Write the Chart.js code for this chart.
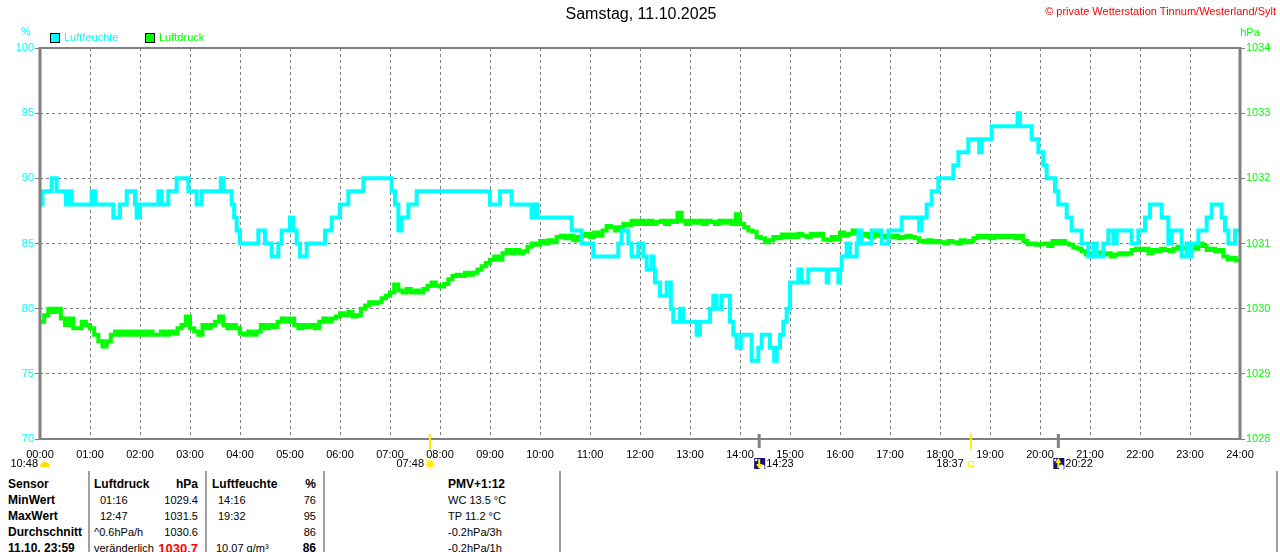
<!DOCTYPE html>
<html><head><meta charset="utf-8">
<script src="https://cdn.jsdelivr.net/npm/chart.js@4.4.1/dist/chart.umd.min.js"></script>
<style>
body{margin:0;background:#fff;width:1280px;height:552px;overflow:hidden;position:relative;font-family:"Liberation Sans",Arial,sans-serif}
.a{position:absolute;white-space:nowrap;line-height:1}
.sep{position:absolute;top:471px;height:81px;width:2px;background:#a0a0a0}
</style></head><body>
<canvas id="c" width="1280" height="470" style="position:absolute;left:0;top:0;width:1280px;height:470px"></canvas>
<div id="ov"></div>
<script>
// ---------- DATA ----------
const chartTitle = 'Samstag, 11.10.2025';
const copyright = '© private Wetterstation Tinnum/Westerland/Sylt';
const seriesLabels = ['Luftfeuchte', 'Luftdruck'];
const xTickLabels = ['00:00','01:00','02:00','03:00','04:00','05:00','06:00','07:00','08:00','09:00','10:00','11:00','12:00','13:00','14:00','15:00','16:00','17:00','18:00','19:00','20:00','21:00','22:00','23:00','24:00'];
const humTickLabels = [70, 75, 80, 85, 90, 95, 100];
const pressTickLabels = [1028, 1029, 1030, 1031, 1032, 1033, 1034];

// humidity (%): minute of day where a new value starts, and that value
const humTimes = [0,3,14,20,31,34,38,62,66,88,96,104,114,116,120,142,146,154,164,178,188,194,217,220,230,233,236,240,262,270,278,286,290,300,304,308,312,320,342,350,360,370,388,422,426,430,434,442,452,540,552,566,590,594,597,638,650,664,694,698,706,710,718,724,728,734,736,738,744,752,757,760,768,772,788,792,804,808,812,818,828,832,836,841,854,862,866,876,881,884,888,892,896,900,910,914,922,944,946,958,960,962,968,972,980,982,986,998,1010,1018,1034,1055,1058,1064,1070,1078,1096,1102,1114,1127,1130,1142,1173,1176,1190,1198,1204,1208,1218,1222,1232,1238,1250,1258,1264,1268,1276,1282,1288,1292,1310,1318,1326,1332,1346,1354,1358,1370,1376,1378,1382,1390,1400,1406,1418,1422,1426,1434,1440];
const humValues = [88,89,90,89,88,89,88,89,88,87,88,89,88,87,88,89,88,89,90,89,88,89,90,89,88,87,86,85,86,85,84,85,86,87,86,85,84,85,86,87,88,89,90,89,88,86,87,88,89,88,89,88,87,88,87,86,85,84,85,86,85,84,85,84,83,84,83,82,81,82,80,79,80,79,78,79,80,81,80,81,79,78,77,78,76,77,78,77,76,77,78,79,80,82,83,82,83,82,83,82,83,84,85,84,85,86,85,86,85,86,87,86,87,88,89,90,91,92,93,92,93,94,95,94,93,92,91,90,89,88,87,86,85,84,85,84,85,86,85,86,85,86,87,88,87,85,86,84,85,84,85,86,87,88,87,86,85,86,86];

// air pressure (hPa), one reading every 5 minutes from 00:00 to 24:00
const pressStepMinutes = 5;
const pressValues = [
 1029.80,1029.90,1030.00,1029.95,1030.00,1029.85,1029.75,1029.85,1029.70,1029.70,1029.80,1029.75,
 1029.70,1029.60,1029.50,1029.42,1029.50,1029.60,1029.65,1029.60,1029.65,1029.60,1029.65,1029.60,
 1029.65,1029.60,1029.65,1029.60,1029.60,1029.65,1029.60,1029.65,1029.62,1029.70,1029.75,1029.88,
 1029.70,1029.65,1029.60,1029.75,1029.70,1029.75,1029.80,1029.88,1029.75,1029.70,1029.75,1029.70,
 1029.62,1029.60,1029.65,1029.60,1029.65,1029.75,1029.70,1029.75,1029.72,1029.80,1029.85,1029.80,
 1029.85,1029.75,1029.70,1029.75,1029.72,1029.75,1029.70,1029.80,1029.85,1029.80,1029.85,1029.88,
 1029.93,1029.90,1029.95,1029.88,1029.90,1030.00,1030.05,1030.10,1030.08,1030.10,1030.16,1030.20,
 1030.25,1030.37,1030.28,1030.25,1030.30,1030.25,1030.28,1030.25,1030.30,1030.35,1030.40,1030.35,
 1030.34,1030.38,1030.45,1030.50,1030.52,1030.50,1030.55,1030.52,1030.55,1030.60,1030.65,1030.70,
 1030.75,1030.80,1030.75,1030.85,1030.90,1030.85,1030.90,1030.85,1030.88,1030.95,1031.00,1030.98,
 1031.04,1031.00,1031.05,1031.02,1031.10,1031.12,1031.08,1031.12,1031.05,1031.10,1031.12,1031.15,
 1031.10,1031.17,1031.12,1031.20,1031.27,1031.25,1031.20,1031.25,1031.30,1031.28,1031.35,1031.30,
 1031.35,1031.30,1031.35,1031.30,1031.33,1031.35,1031.30,1031.35,1031.33,1031.47,1031.35,1031.30,
 1031.35,1031.32,1031.35,1031.30,1031.35,1031.33,1031.30,1031.35,1031.32,1031.35,1031.30,1031.45,
 1031.30,1031.25,1031.20,1031.18,1031.10,1031.08,1031.02,1031.05,1031.10,1031.08,1031.14,1031.10,
 1031.14,1031.10,1031.15,1031.12,1031.10,1031.15,1031.12,1031.15,1031.06,1031.05,1031.10,1031.06,
 1031.17,1031.12,1031.15,1031.20,1031.15,1031.12,1031.15,1031.10,1031.15,1031.12,1031.10,1031.12,
 1031.10,1031.12,1031.08,1031.10,1031.12,1031.10,1031.08,1031.04,1031.02,1031.05,1031.02,1031.04,
 1031.02,1031.00,1031.04,1031.02,1031.00,1031.05,1031.02,1031.04,1031.08,1031.12,1031.10,1031.12,
 1031.08,1031.12,1031.10,1031.12,1031.10,1031.12,1031.08,1031.12,1031.04,1030.99,1031.00,1030.98,
 1030.99,1031.00,1030.96,1031.04,1031.00,1031.04,1031.00,1030.98,1030.94,1030.92,1030.88,1030.83,
 1030.85,1030.83,1030.86,1030.83,1030.85,1030.80,1030.83,1030.85,1030.83,1030.85,1030.90,1030.92,
 1030.90,1030.92,1030.85,1030.90,1030.88,1030.92,1030.90,1030.88,1030.92,1030.95,1030.92,1030.94,
 1030.96,1030.92,1031.00,1030.96,1030.90,1030.92,1030.88,1030.90,1030.80,1030.76,1030.78,1030.74,
 1030.72];

// astronomical events (minute of day)
const eventTimes = [468, 863, 1117, 1222];
const eventLabels = ['07:48', '14:23', '18:37', '20:22'];
const eventKinds = ['sunrise', 'moon', 'sunset', 'moonrise'];
const dayLength = '10:48';

// summary table
const tableRows = [
  ['Sensor', 'Luftdruck', 'hPa', 'Luftfeuchte', '%', 'PMV+1:12'],
  ['MinWert', '01:16', '1029.4', '14:16', '76', 'WC 13.5 °C'],
  ['MaxWert', '12:47', '1031.5', '19:32', '95', 'TP 11.2 °C'],
  ['Durchschnitt', '^0.6hPa/h', '1030.6', '', '86', '-0.2hPa/3h'],
  ['11.10. 23:59', 'veränderlich', '1030.7', '10.07 g/m³', '86', '-0.2hPa/1h']
];

// ---------- STYLE ----------
const CYAN = '#00ffff', GREEN = '#00ff00', GRAY = '#808080';
const FONT = '"Liberation Sans", Arial, sans-serif';

const ov = document.getElementById('ov');
function place(text, x, cy, size, color, align, bold) {
  const d = document.createElement('div');
  d.className = 'a';
  d.textContent = text;
  d.style.fontSize = size + 'px';
  d.style.color = color;
  if (bold) d.style.fontWeight = 'bold';
  d.style.top = (cy - 0.55 * size) + 'px';
  if (align === 'right') d.style.right = (1280 - x) + 'px';
  else if (align === 'center') { d.style.left = x + 'px'; d.style.transform = 'translateX(-50%)'; }
  else d.style.left = x + 'px';
  ov.appendChild(d);
  return d;
}

// header texts
place(chartTitle, 641, 15, 16, '#000', 'center');
place(copyright, 1276, 12, 11, '#ff0000', 'right');
place('%', 26, 32, 11, CYAN, 'center');
place('hPa', 1250, 33, 11, GREEN, 'center');

// legend
const legendX = [50, 145];
const legendColors = [CYAN, GREEN];
seriesLabels.forEach((lab, i) => {
  const b = document.createElement('div');
  b.style.cssText = `position:absolute;left:${legendX[i]}px;top:33px;width:8px;height:8px;border:1px solid #000;background:${legendColors[i]}`;
  ov.appendChild(b);
  place(lab, legendX[i] + 14, 38, 11, legendColors[i], 'left');
});

// table
const rowY = [485, 501, 517, 533, 549];
const seps = [88, 205, 323, 559, 1276];
seps.forEach(x => { const s = document.createElement('div'); s.className = 'sep'; s.style.left = x + 'px'; ov.appendChild(s); });
tableRows.forEach((r, i) => {
  const y = rowY[i];
  const hdr = i === 0;
  place(r[0], 8, y, 12, '#000', 'left', true);
  place(r[1], (i === 1 || i === 2) ? 100 : 94, y, hdr ? 12 : 11, '#000', 'left', hdr);
  if (i === 4) place(r[2], 198, y, 13, '#ff0000', 'right', true);
  else place(r[2], 198, y, hdr ? 12 : 11, '#000', 'right', hdr);
  if (r[3]) place(r[3], hdr ? 212 : (i === 4 ? 216 : 218), y, hdr ? 12 : 11, '#000', 'left', hdr);
  place(r[4], 316, y, (hdr || i === 4) ? 12 : 11, '#000', 'right', hdr || i === 4);
  place(r[5], 448, y, hdr ? 12 : 11, '#000', 'left', hdr);
});

// ---------- CHART ----------
const humData = humTimes.map((t, i) => ({ x: t, y: humValues[i] }));
const pressData = pressValues.map((v, i) => ({ x: i * pressStepMinutes, y: v }));

function drawSun(ctx, x, y) {
  ctx.fillStyle = '#ffee00'; ctx.strokeStyle = '#ffee00'; ctx.lineWidth = 1;
  ctx.beginPath(); ctx.arc(x, y, 3.5, 0, Math.PI * 2); ctx.fill();
  for (let k = 0; k < 8; k++) {
    const an = k * Math.PI / 4;
    ctx.beginPath(); ctx.moveTo(x + Math.cos(an) * 4.5, y + Math.sin(an) * 4.5);
    ctx.lineTo(x + Math.cos(an) * 6, y + Math.sin(an) * 6); ctx.stroke();
  }
}
function drawMoon(ctx, x, y, up) {
  ctx.fillStyle = '#14147a'; ctx.fillRect(x, y - 6, 11, 11);
  ctx.fillStyle = '#ffffff';
  ctx.beginPath(); ctx.arc(x + 8, y + 3, 2.5, 0, Math.PI * 2); ctx.fill();
  ctx.beginPath(); ctx.arc(x + 2, y - 4, 1.2, 0, Math.PI * 2); ctx.fill();
  ctx.strokeStyle = '#ffee00'; ctx.fillStyle = '#ffee00'; ctx.lineWidth = 2;
  ctx.beginPath(); ctx.moveTo(x + 5, y - 5); ctx.lineTo(x + 5, y + 4); ctx.stroke();
  ctx.beginPath();
  if (up) { ctx.moveTo(x + 2, y - 1); ctx.lineTo(x + 5, y - 6); ctx.lineTo(x + 8, y - 1); }
  else { ctx.moveTo(x + 2, y + 0); ctx.lineTo(x + 5, y + 5); ctx.lineTo(x + 8, y + 0); }
  ctx.fill();
}

const framePlugin = {
  id: 'frame',
  afterDraw(chart) {
    const { ctx, chartArea: a } = chart;
    const xs = chart.scales.x;
    ctx.save();
    ctx.strokeStyle = GRAY; ctx.lineWidth = 2;
    ctx.strokeRect(a.left, a.top, a.right - a.left, a.bottom - a.top);
    ctx.lineWidth = 3;
    ctx.beginPath(); ctx.moveTo(a.left, a.top - 1); ctx.lineTo(a.left, a.bottom + 1); ctx.stroke();
    ctx.beginPath(); ctx.moveTo(a.right, a.top - 1); ctx.lineTo(a.right, a.bottom + 1); ctx.stroke();

    const iy = 464;
    ctx.font = '11px ' + FONT; ctx.textBaseline = 'middle'; ctx.fillStyle = '#000';
    // day length with half sun at start of day
    const x0 = xs.getPixelForValue(0);
    ctx.textAlign = 'right'; ctx.fillText(dayLength, x0 - 2, iy);
    ctx.fillStyle = '#ffdd00';
    ctx.beginPath(); ctx.arc(x0 + 5, iy + 3, 5, Math.PI, 0); ctx.fill();

    eventTimes.forEach((t, i) => {
      const x = xs.getPixelForValue(t);
      const kind = eventKinds[i];
      const sunEv = kind === 'sunrise' || kind === 'sunset';
      ctx.strokeStyle = sunEv ? '#ffee00' : GRAY;
      ctx.lineWidth = sunEv ? 2 : 3;
      ctx.beginPath(); ctx.moveTo(x, a.bottom - 5); ctx.lineTo(x, a.bottom + (sunEv ? 10 : 9)); ctx.stroke();
      ctx.fillStyle = '#000';
      if (kind === 'sunrise') {
        ctx.textAlign = 'right'; ctx.fillText(eventLabels[i], x - 6, iy);
        drawSun(ctx, x, iy);
      } else if (kind === 'sunset') {
        ctx.textAlign = 'right'; ctx.fillText(eventLabels[i], x - 7, iy);
        ctx.strokeStyle = '#ffee00'; ctx.lineWidth = 1;
        ctx.strokeRect(x - 2.5, iy - 2.5, 5, 5);
      } else {
        drawMoon(ctx, x - 5, iy, kind === 'moonrise');
        ctx.fillStyle = '#000';
        ctx.textAlign = 'left'; ctx.fillText(eventLabels[i], x + 7, iy);
      }
    });
    ctx.restore();
  }
};

new Chart(document.getElementById('c'), {
  type: 'line',
  data: {
    datasets: [
      { label: seriesLabels[0], data: humData, yAxisID: 'yH', borderColor: CYAN, backgroundColor: CYAN,
        borderWidth: 4, pointRadius: 0, stepped: 'before', fill: false },
      { label: seriesLabels[1], data: pressData, yAxisID: 'yP', borderColor: GREEN, backgroundColor: GREEN,
        borderWidth: 4, pointRadius: 0, stepped: 'before', fill: false }
    ]
  },
  options: {
    responsive: false, animation: false, devicePixelRatio: 1,
    layout: { padding: { top: 48, left: 0, right: 0, bottom: 0 } },
    plugins: { legend: { display: false }, title: { display: false }, tooltip: { enabled: false } },
    scales: {
      x: {
        type: 'linear', min: 0, max: 1440,
        afterBuildTicks: s => { s.ticks = xTickLabels.map((_, i) => ({ value: i * 60 })); },
        afterFit: s => { s.height = 31; },
        ticks: { color: '#000', font: { size: 11, family: FONT }, padding: 9, maxRotation: 0, autoSkip: false,
                 callback: (v) => xTickLabels[Math.round(v / 60)] },
        grid: { color: GRAY, lineWidth: 1, drawTicks: false },
        border: { display: false, dash: [3, 3] }
      },
      yH: {
        type: 'linear', position: 'left', min: 70, max: 100,
        afterBuildTicks: s => { s.ticks = humTickLabels.map(v => ({ value: v })); },
        afterFit: s => { s.width = 40; },
        ticks: { color: CYAN, font: { size: 11, family: FONT }, padding: 1, callback: v => String(v) },
        grid: { color: GRAY, lineWidth: 1, drawTicks: true, tickLength: 5, tickColor: GRAY, tickWidth: 1, tickBorderDash: [] },
        border: { display: false, dash: [3, 3] }
      },
      yP: {
        type: 'linear', position: 'right', min: 1028, max: 1034,
        afterBuildTicks: s => { s.ticks = pressTickLabels.map(v => ({ value: v })); },
        afterFit: s => { s.width = 40; },
        ticks: { color: GREEN, font: { size: 11, family: FONT }, padding: 1, callback: v => String(v) },
        grid: { drawOnChartArea: false, drawTicks: true, tickLength: 5, tickColor: GRAY, tickWidth: 1, tickBorderDash: [] },
        border: { display: false }
      }
    }
  },
  plugins: [framePlugin]
});
</script>
</body></html>
